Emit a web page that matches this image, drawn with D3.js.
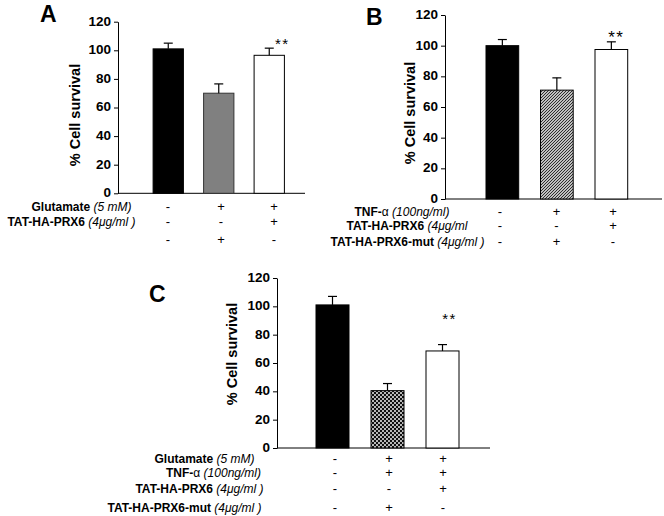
<!DOCTYPE html>
<html><head><meta charset="utf-8">
<script src="https://cdn.jsdelivr.net/npm/d3@7"></script>
<style>
body{margin:0;background:#fff}
svg{display:block}
text{font-family:"Liberation Sans",Arial,Helvetica,sans-serif;fill:#000}
</style>
</head><body>
<svg id="chart" width="664" height="516"></svg>
<script>
// ---------- DATA ----------
const categories = ["c1", "c2", "c3"];
const yTicks = [0, 20, 40, 60, 80, 100, 120];
const yLabel = "% Cell survival";

const valuesA = [101, 70, 96.5];
const errorsA = [4, 6.5, 5];
const valuesB = [100, 71, 97.5];
const errorsB = [4, 8, 5];
const valuesC = [101, 40.5, 68.5];
const errorsC = [6, 5, 4.5];

const starLevelA = 105;
const starLevelB = 105.7;
const starLevelC = 91.7;
const starText = "**";

const rowNamesA = ["Glutamate", "TAT-HA-PRX6", ""];
const rowUnitsA = ["(5 mM)", "(4μg/ml )", ""];
const signsA = [["-", "+", "+"], ["-", "-", "+"], ["-", "+", "-"]];

const rowNamesB = ["TNF-α", "TAT-HA-PRX6", "TAT-HA-PRX6-mut"];
const rowUnitsB = ["(100ng/ml)", "(4μg/ml", "(4μg/ml )"];
const signsB = [["-", "+", "+"], ["-", "-", "+"], ["-", "+", "-"]];

const rowNamesC = ["Glutamate", "TNF-α", "TAT-HA-PRX6", "TAT-HA-PRX6-mut"];
const rowUnitsC = ["(5 mM)", "(100ng/ml)", "(4μg/ml )", "(4μg/ml )"];
const signsC = [["-", "+", "+"], ["-", "+", "+"], ["-", "-", "+"], ["-", "+", "-"]];

// ---------- LAYOUT ----------
const panels = [
  { letter: "A", values: valuesA, errors: errorsA, star: starLevelA, names: rowNamesA, units: rowUnitsA, signs: signsA,
    axisX: 118, y0: 193.3, yTop: 21.7, band: [143, 294.5], xEnd: 305, starDx: 13, starSize: 15,
    letterPos: [40, 22], yLabelPos: [80, 115],
    rowBase: [210.5, 226, 243.5], rowCx: [81.5, 71.5, 0], signRange: [168, 274],
    fills: ["#000", "#808080", "#fff"], strokes: ["#000", "#333", "#000"] },
  { letter: "B", values: valuesB, errors: errorsB, star: starLevelB, names: rowNamesB, units: rowUnitsB, signs: signsB,
    axisX: 445, y0: 199, yTop: 15, band: [475.1, 638.6], xEnd: 662, starDx: 5, starSize: 17,
    letterPos: [366, 25], yLabelPos: [415, 113],
    rowBase: [215.5, 230, 245.5], rowCx: [402, 407, 407.5], signRange: [500, 613],
    fills: ["#000", "url(#hatch)", "#fff"], strokes: ["#000", "#000", "#000"] },
  { letter: "C", values: valuesC, errors: errorsC, star: starLevelC, names: rowNamesC, units: rowUnitsC, signs: signsC,
    axisX: 277, y0: 448, yTop: 278, band: [305, 470], xEnd: 490, starDx: 7, starSize: 15,
    letterPos: [149, 302], yLabelPos: [237, 354],
    rowBase: [462.5, 477, 493, 512], rowCx: [204.5, 213.5, 199.5, 184.5], signRange: [335, 443],
    fills: ["#000", "url(#dots)", "#fff"], strokes: ["#000", "#000", "#000"] }
];

const svg = d3.select("#chart");
const defs = svg.append("defs");

// diagonal hatch
const hatch = defs.append("pattern").attr("id", "hatch")
  .attr("patternUnits", "userSpaceOnUse").attr("width", 3).attr("height", 3);
hatch.append("rect").attr("width", 3).attr("height", 3).attr("fill", "#fff");
hatch.append("path").attr("d", "M-1,1 L1,-1 M0,3 L3,0 M2,4 L4,2")
  .attr("stroke", "#222").attr("stroke-width", 1.1);

// dotted checker
const dots = defs.append("pattern").attr("id", "dots")
  .attr("patternUnits", "userSpaceOnUse").attr("width", 4).attr("height", 4);
dots.append("rect").attr("width", 4).attr("height", 4).attr("fill", "#111");
dots.append("circle").attr("cx", 1).attr("cy", 1).attr("r", 0.95).attr("fill", "#fff");
dots.append("circle").attr("cx", 3).attr("cy", 3).attr("r", 0.95).attr("fill", "#fff");

panels.forEach(p => {
  const g = svg.append("g");
  const y = d3.scaleLinear().domain([0, 120]).range([p.y0, p.yTop]);
  const x = d3.scaleBand().domain(categories).range(p.band).paddingInner(0.4).paddingOuter(0.2);
  const sx = d3.scalePoint().domain(categories).range(p.signRange);

  // y axis
  const ax = g.append("g").attr("transform", `translate(${p.axisX},0)`)
    .call(d3.axisLeft(y).tickValues(yTicks).tickSize(4).tickSizeOuter(0).tickPadding(3));
  ax.select(".domain").attr("stroke", "#000").attr("stroke-width", 1);
  ax.selectAll(".tick line").attr("stroke", "#000");
  ax.selectAll(".tick text").attr("font-size", 13.5).attr("font-weight", "bold").attr("dy", "0.25em")
    .attr("font-family", '"Liberation Sans",Arial,sans-serif').attr("fill", "#000");

  // x baseline
  g.append("line").attr("x1", p.axisX).attr("x2", p.xEnd)
    .attr("y1", y(0)).attr("y2", y(0)).attr("stroke", "#000").attr("stroke-width", 1);

  // bars
  g.selectAll("rect.bar").data(p.values).join("rect").attr("class", "bar")
    .attr("x", (d, i) => x(categories[i]))
    .attr("width", x.bandwidth())
    .attr("y", d => y(d))
    .attr("height", d => y(0) - y(d))
    .attr("fill", (d, i) => p.fills[i])
    .attr("stroke", (d, i) => p.strokes[i]).attr("stroke-width", 1);

  // error bars (upper only)
  p.values.forEach((v, i) => {
    const cx = x(categories[i]) + x.bandwidth() / 2;
    g.append("line").attr("x1", cx).attr("x2", cx)
      .attr("y1", y(v)).attr("y2", y(v + p.errors[i])).attr("stroke", "#000").attr("stroke-width", 1.2);
    g.append("line").attr("x1", cx - 4.5).attr("x2", cx + 4.5)
      .attr("y1", y(v + p.errors[i])).attr("y2", y(v + p.errors[i])).attr("stroke", "#000").attr("stroke-width", 1.2);
  });

  // significance stars
  g.append("text")
    .attr("x", x(categories[2]) + x.bandwidth() / 2 + p.starDx)
    .attr("y", y(p.star) + 6)
    .attr("text-anchor", "middle").attr("font-size", p.starSize).attr("letter-spacing", 1.5)
    .text(starText);

  // panel letter
  g.append("text").attr("x", p.letterPos[0]).attr("y", p.letterPos[1])
    .attr("font-size", 23).attr("font-weight", "bold").text(p.letter);

  // y label
  g.append("text").attr("transform", `translate(${p.yLabelPos[0]},${p.yLabelPos[1]}) rotate(-90)`)
    .attr("text-anchor", "middle").attr("font-size", 14.5).attr("font-weight", "bold").text(yLabel);

  // row labels and signs
  p.names.forEach((name, r) => {
    if (name) {
      const t = g.append("text").attr("x", p.rowCx[r]).attr("y", p.rowBase[r])
        .attr("text-anchor", "middle").attr("font-size", 12);
      if (name.endsWith("α")) {
        t.append("tspan").attr("font-weight", "bold").text(name.slice(0, -1));
        t.append("tspan").attr("font-weight", "normal").text("α");
      } else {
        t.append("tspan").attr("font-weight", "bold").text(name);
      }
      t.append("tspan").attr("font-style", "italic").attr("font-weight", "normal").text(" " + p.units[r]);
    }
    p.signs[r].forEach((s, i) => {
      g.append("text").attr("x", sx(categories[i])).attr("y", p.rowBase[r])
        .attr("text-anchor", "middle").attr("font-size", 13).text(s);
    });
  });
});
</script>
</body></html>
